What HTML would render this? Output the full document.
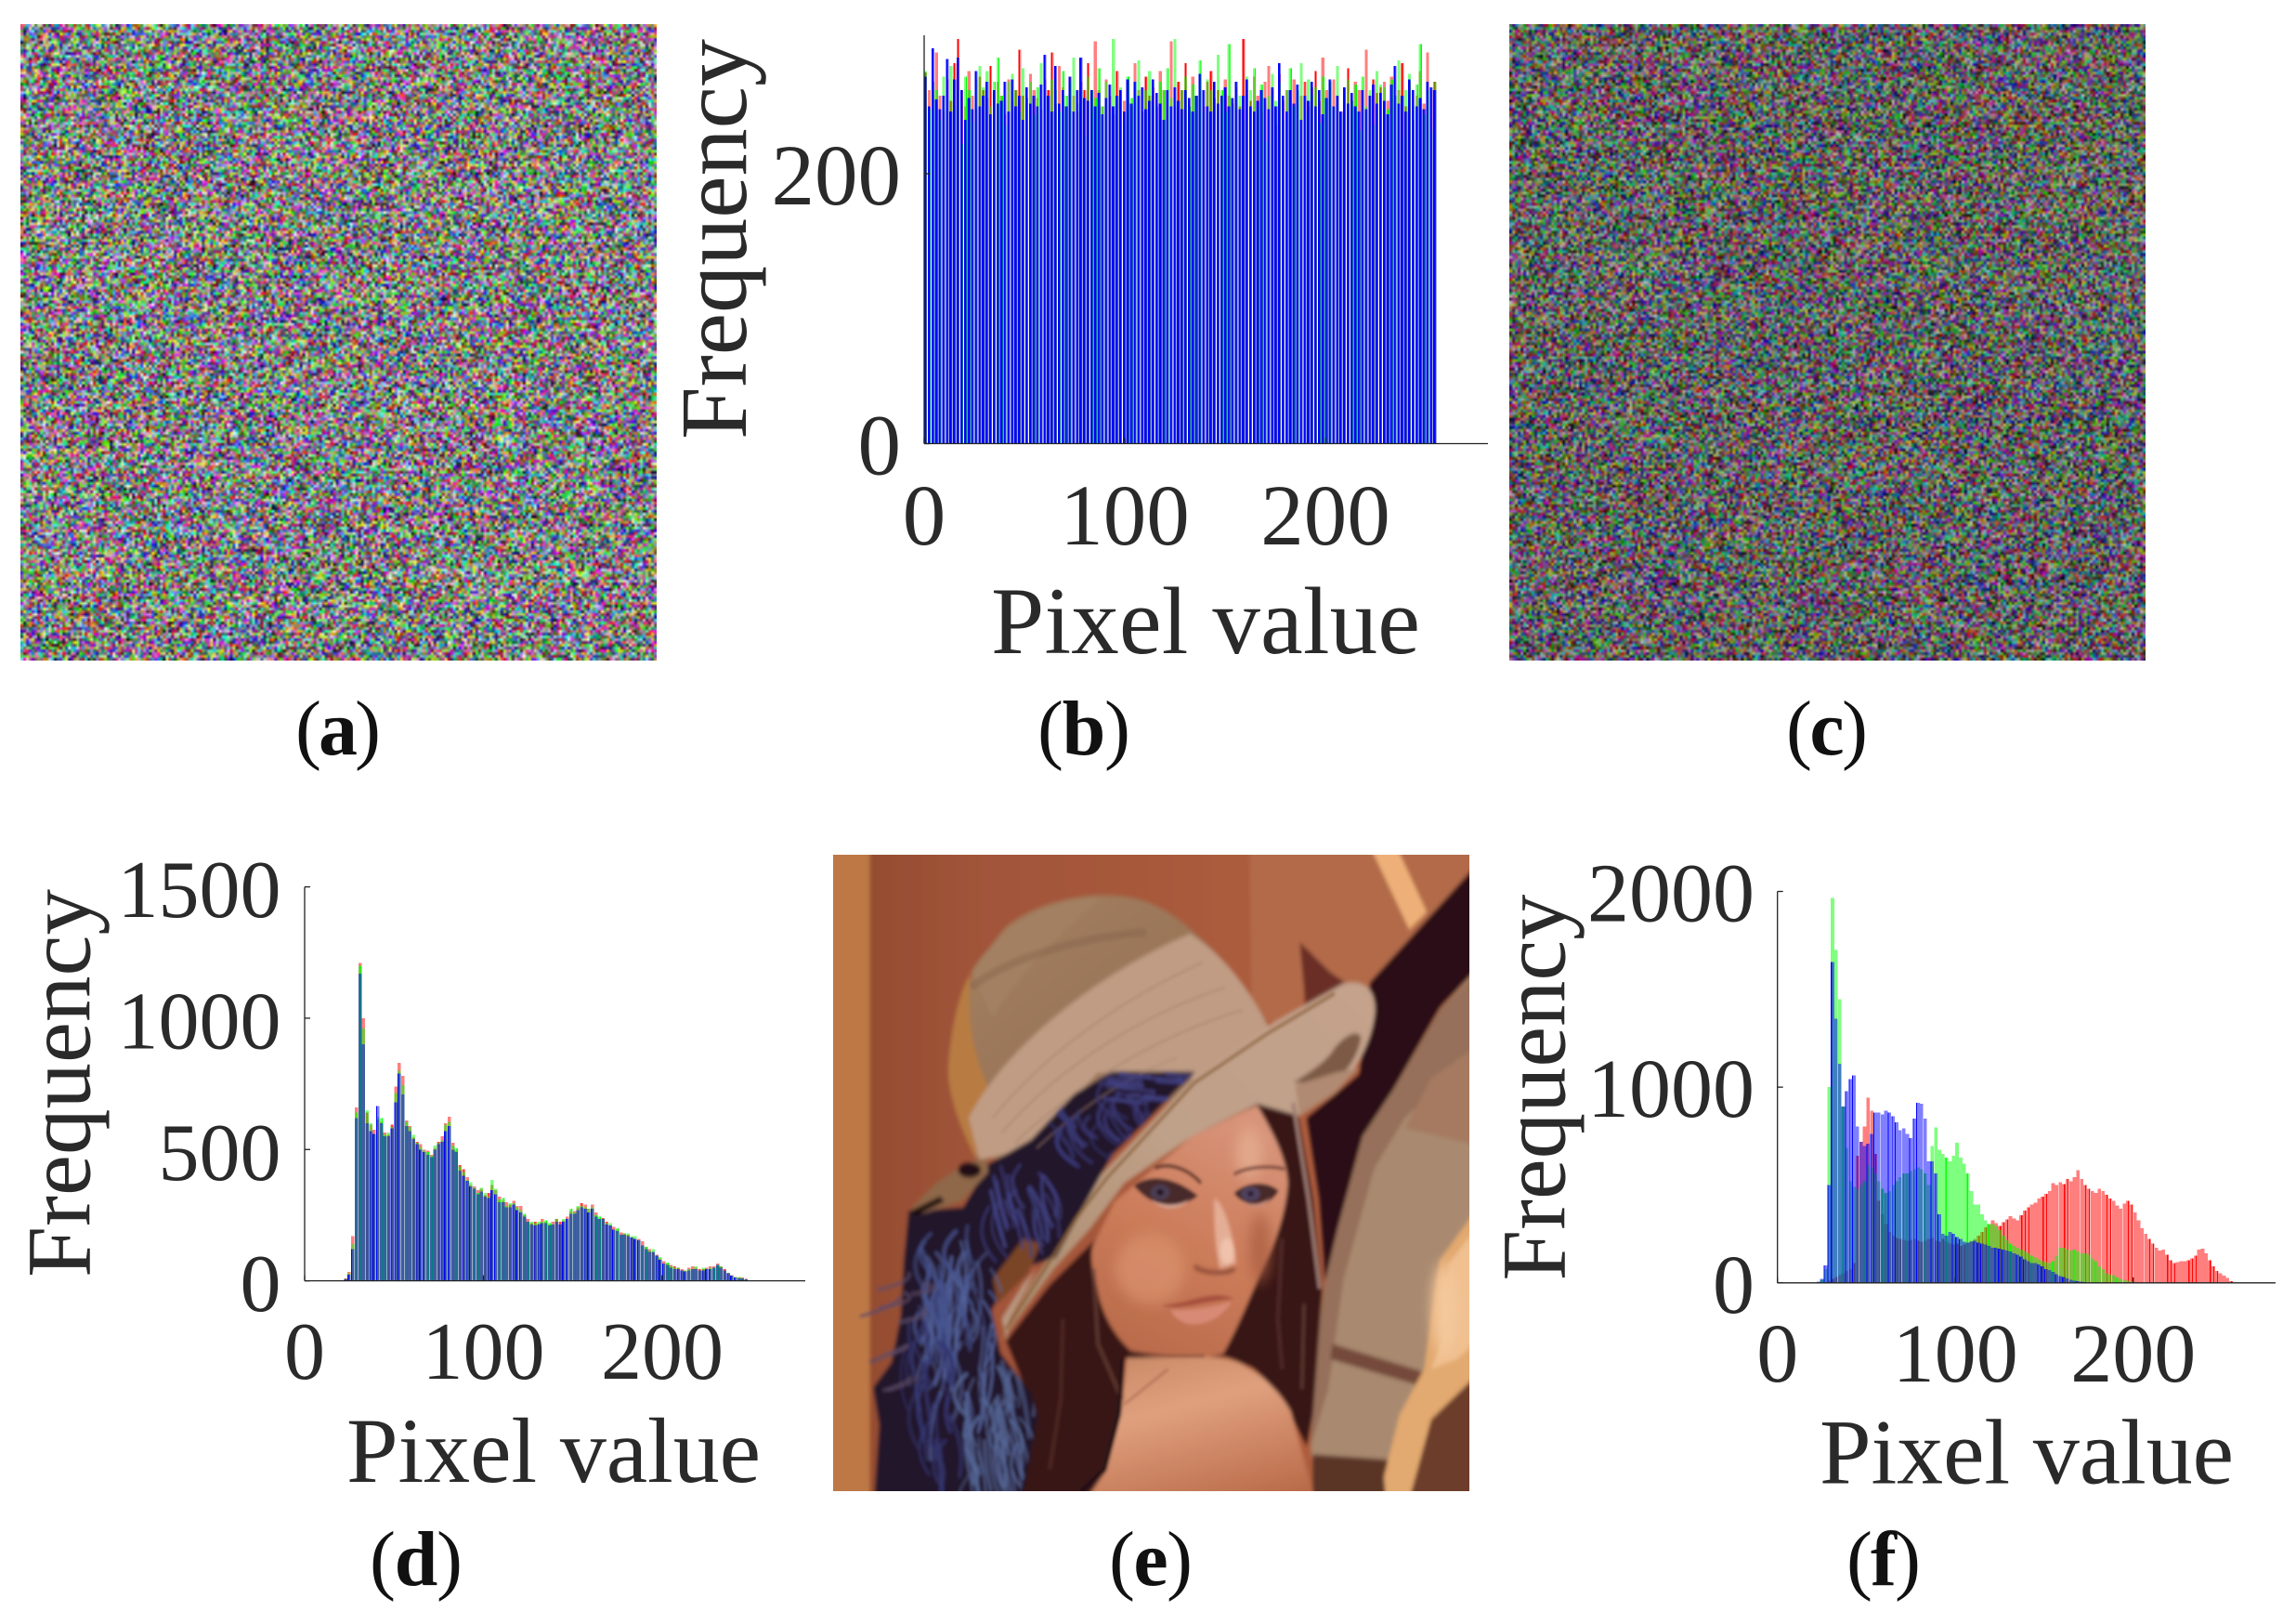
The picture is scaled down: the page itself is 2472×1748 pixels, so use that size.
<!DOCTYPE html>
<html lang="en">
<head>
<meta charset="utf-8">
<title>Encrypted image and histogram panels</title>
<style>
html,body{margin:0;padding:0;background:#fff;}
body{position:relative;width:2472px;height:1748px;overflow:hidden;}
canvas{position:absolute;display:block;}
svg{position:absolute;left:0;top:0;}
text{font-family:"Liberation Serif",serif;fill:#2a2a2a;}
.cap{fill:#111;}
</style>
</head>
<body>
<canvas id="noiseA" width="228" height="228" style="left:22px;top:26px;width:685px;height:685px"></canvas>
<canvas id="noiseC" width="228" height="228" style="left:1625px;top:26px;width:685px;height:685px"></canvas>

<svg id="fig" width="2472" height="1748" viewBox="0 0 2472 1748" xmlns="http://www.w3.org/2000/svg">
  <defs>
    <filter id="soft" x="-5%" y="-5%" width="110%" height="110%"><feGaussianBlur stdDeviation="3"/></filter>
    <filter id="soft2" x="-10%" y="-10%" width="120%" height="120%"><feGaussianBlur stdDeviation="14"/></filter>
    <filter id="soft3" x="-10%" y="-10%" width="120%" height="120%"><feGaussianBlur stdDeviation="1.4"/></filter>
    <filter id="photoBlur" x="0" y="0" width="100%" height="100%"><feGaussianBlur stdDeviation="3.5"/></filter>
    <linearGradient id="crown" x1="0" y1="0" x2="1" y2="1"><stop offset="0" stop-color="#a5805f"/><stop offset="1" stop-color="#8e6a52"/></linearGradient>
    <linearGradient id="bgMid" x1="0" y1="0" x2="1" y2="0"><stop offset="0" stop-color="#8f4a2e"/><stop offset="0.25" stop-color="#a2553a"/><stop offset="1" stop-color="#b4623f"/></linearGradient>
    <linearGradient id="shoulder" x1="0.2" y1="0" x2="0.6" y2="1"><stop offset="0" stop-color="#c98a68"/><stop offset="0.35" stop-color="#e0a07e"/><stop offset="1" stop-color="#b96a48"/></linearGradient>
    <linearGradient id="faceSkin" x1="0.6" y1="0" x2="0.2" y2="1"><stop offset="0" stop-color="#d8947a"/><stop offset="0.5" stop-color="#cc7c5a"/><stop offset="1" stop-color="#b86a4a"/></linearGradient>
    <linearGradient id="brimFill" x1="0" y1="1" x2="1" y2="0"><stop offset="0" stop-color="#a98a6c"/><stop offset="0.5" stop-color="#bfa088"/><stop offset="1" stop-color="#c4a28c"/></linearGradient>
    <clipPath id="lenaClip"><rect x="36" y="36" width="1451" height="1267"/></clipPath>
    <clipPath id="featherClip"><path d="M862 468L671 468L587 511L488 603L389 653L333 739L209 745L198 844L191 955L170 1047L128 1097L142 1171L128 1320H460L502 1158L488 1109L417 1029L396 942L452 862L544 838L671 634Z"/></clipPath>
  </defs>

  <!-- Portrait panel (e): drawn in a 1451x1267 space mapped to the 685x685 panel -->
  <svg x="897" y="920" width="685" height="685" viewBox="36 36 1451 1267" preserveAspectRatio="none">
    <g clip-path="url(#lenaClip)">
    <g filter="url(#photoBlur)">
      <rect x="0" y="0" width="1530" height="1350" fill="url(#bgMid)"/>
      <g filter="url(#soft)">
        <rect x="0" y="0" width="120" height="1350" fill="#bd7845"/>
        <path d="M985 0H1530V300L1260 300L1170 300L1120 220L1100 380L990 360Z" fill="#b26a4a"/>
        <path d="M1100 210L1170 270L1220 300L1120 400Z" fill="#6a2e28"/>
        <path d="M1250 0L1310 0L1390 150L1350 185Z" fill="#eeb078"/>
        <!-- dark arch -->
        <path d="M1530 30L1260 290L1236 473L1116 560L1144 720L1158 886L1186 782L1243 597L1313 504L1420 340L1530 240Z" fill="#2c1016"/>
        <!-- mirror -->
        <path d="M1530 240L1420 345L1313 504L1243 597L1186 782L1158 886L1140 1000L1125 1215L1150 1350H1530Z" fill="#a98a70"/>
        <path d="M1530 250L1420 345L1313 504L1243 597L1186 782L1158 886L1140 1000L1125 1215L1165 1100L1200 880L1270 660L1340 560L1530 400Z" fill="#96705a"/>
        <path d="M1340 580L1530 620V400L1400 480Z" fill="#a57a60"/>
        <path d="M1175 1010L1400 1070L1400 1100L1170 1040Z" fill="#75483a"/>
        <path d="M1130 1230L1300 1240L1300 1350H1130Z" fill="#5a3428"/>
        <!-- peach drape -->
        <path d="M1530 710L1419 843L1398 967L1384 1059L1327 1152L1292 1275L1300 1350H1530Z" fill="#e2a970"/>
        <path d="M1510 770L1440 850L1425 1000L1400 1060L1460 1040L1510 1000Z" fill="#f0c090"/>
        <path d="M1530 1050L1400 1160L1340 1350H1530Z" fill="#6c3c2c"/>
        <!-- hair -->
        <path d="M1003 530L1085 500L1130 720L1151 905L1130 1151L1116 1213L1052 1108L996 1059L932 1035L700 1040L693 1140L657 1263L601 1350L440 1350L502 1158L431 1004L530 893L622 813L800 660Z" fill="#391719"/>
        <!-- hat crown -->
        <path d="M298 470C300 360 350 260 430 180C500 130 620 105 720 122C790 135 840 175 870 200C940 250 1000 330 1040 395L760 550L500 640L360 640C340 600 300 520 298 470Z" fill="url(#crown)"/>
        <path d="M350 270C420 175 520 125 650 118C560 190 470 260 400 360Z" fill="#a38062"/>
        <path d="M298 470C305 360 330 300 350 270C340 350 350 430 400 520L362 640C330 590 300 520 298 470Z" fill="#b87c42"/>
        <path d="M345 560C420 430 620 280 850 193C950 250 1000 330 1035 390L860 480L640 470L480 620L370 645Z" fill="#c09c84"/>
        <!-- brim -->
        <path d="M418 1005L480 900L560 800L640 680L860 478L1031 375L1200 292C1245 285 1272 300 1272 345C1268 400 1235 460 1180 510L1100 556L1003 532L854 597L700 690L622 780L540 860Z" fill="url(#brimFill)"/>
        <path d="M1180 420C1200 400 1230 380 1240 400C1230 450 1190 490 1150 490L1085 490C1120 470 1160 450 1180 420Z" fill="#7c5a44"/>
        <path d="M1100 556L1180 510L1235 460L1180 470L1090 495Z" fill="#b08a72"/>
        <!-- feather mass -->
        <path d="M862 468L671 468L587 511L488 603L389 653L333 739L209 745L198 844L191 955L170 1047L128 1097L142 1171L128 1350H460L502 1158L488 1109L417 1029L396 942L452 862L544 838L671 634Z" fill="#23142a"/>
        <!-- knot -->
        <path d="M212 742L270 690L340 650L385 640L390 668L330 725L240 750Z" fill="#8f6848"/>
        <ellipse cx="347" cy="664" rx="26" ry="15" fill="#241014"/>
        <path d="M212 745L280 716L290 726L222 756Z" fill="#1e0c10"/>
        <path d="M400 880L470 800L510 810L480 870L410 930Z" fill="#7a4428"/>
        <path d="M420 960L470 890L500 860L440 960L432 1000Z" fill="#b89880"/>
        <!-- face -->
        <path d="M1003 535C1040 590 1070 640 1073 690C1068 750 1045 810 1015 860C985 920 955 985 925 1030L883 1038C820 1040 760 1035 714 1023C680 995 650 955 638 900C625 860 622 830 629 813L678 726L854 597Z" fill="url(#faceSkin)"/>
        <!-- shoulder -->
        <path d="M706 1038L869 1035C910 1036 940 1040 960 1047C990 1060 1015 1075 1031 1090C1052 1108 1068 1125 1080 1145L1144 1350H590L657 1263L693 1140Z" fill="url(#shoulder)"/>
      </g>
      <g filter="url(#soft2)">
        <ellipse cx="760" cy="860" rx="80" ry="70" fill="#d88e6c" opacity="0.8"/>
        <ellipse cx="985" cy="630" rx="30" ry="50" fill="#e2a88c"/>
        <ellipse cx="1010" cy="820" rx="25" ry="70" fill="#a85c40" opacity="0.7"/>
        <ellipse cx="1430" cy="940" rx="28" ry="90" fill="#f4c89c"/>
      </g>
      <!-- seam and band detail -->
      <g fill="none">
        <path d="M430 980L520 860L590 760L660 680L860 490L1030 390L1180 312" stroke="#8a6038" stroke-width="7" opacity="0.8"/>
        <path d="M400 560C520 430 700 320 880 250" stroke="#a07c68" stroke-width="4" opacity="0.5"/>
        <path d="M420 590C540 470 720 360 930 300" stroke="#a07c68" stroke-width="4" opacity="0.5"/>
        <path d="M450 610C570 510 760 400 970 345" stroke="#a07c68" stroke-width="4" opacity="0.5"/>
        <path d="M500 620C600 540 700 480 820 440" stroke="#a88672" stroke-width="4" opacity="0.5"/>
        <path d="M350 300C440 240 600 200 750 190" stroke="#7a5c46" stroke-width="16" opacity="0.35"/>
        <!-- hair streaks -->
        <path d="M1085 530L1120 720L1146 900" stroke="#a07e74" stroke-width="10" opacity="0.85"/>
        <path d="M1060 800L1050 960L1060 1060" stroke="#5c3430" stroke-width="10" opacity="0.6"/>
        <path d="M1110 930L1105 1100" stroke="#6a423a" stroke-width="9" opacity="0.6"/>
        <path d="M630 860L640 1010L695 1120" stroke="#6a443c" stroke-width="10" opacity="0.6"/>
        <path d="M560 960L555 1120L530 1260" stroke="#583028" stroke-width="9" opacity="0.6"/>
        <path d="M696 1040L688 1150L655 1260L600 1305" stroke="#241014" stroke-width="9"/>
        <path d="M700 1130L800 1060" stroke="#9a5a44" stroke-width="3"/>
        <path d="M714 1025L800 1034L883 1034" stroke="#7a4434" stroke-width="4"/>
      </g>
      <!-- face details -->
      <g>
        <path d="M722 695C760 668 820 680 868 715C830 742 770 746 722 695Z" fill="#4a2a2a"/>
        <path d="M760 722C790 738 825 735 850 722C825 745 785 745 760 722Z" fill="#d8a898"/>
        <ellipse cx="782" cy="708" rx="22" ry="15" fill="#4c3c54"/>
        <ellipse cx="782" cy="708" rx="8" ry="6" fill="#201018"/>
        <path d="M950 710C980 684 1030 686 1052 705C1030 740 980 744 950 710Z" fill="#4a2a2a"/>
        <path d="M965 722C990 738 1015 732 1035 718C1015 742 985 742 965 722Z" fill="#c89080"/>
        <ellipse cx="988" cy="711" rx="22" ry="14" fill="#504260"/>
        <ellipse cx="988" cy="711" rx="7" ry="5" fill="#201018"/>
        <path d="M770 660C800 648 845 660 875 690" fill="none" stroke="#5a3028" stroke-width="7"/>
        <path d="M950 672C985 655 1040 655 1065 662" fill="none" stroke="#6a3a30" stroke-width="6"/>
        <path d="M784 933C820 945 880 925 950 920C915 905 870 918 840 925C815 930 795 932 784 933Z" fill="#a6503c"/>
        <path d="M805 942C845 944 900 938 945 925C925 958 880 975 845 970C825 965 812 955 805 942Z" fill="#d88a76"/>
      </g>
      <g filter="url(#soft)">
        <path d="M905 720C930 730 950 800 955 850L918 860C905 810 905 760 905 720Z" fill="#e4ae96"/>
        <ellipse cx="935" cy="825" rx="16" ry="26" fill="#f0c2ac"/>
        <path d="M860 855C880 870 930 872 952 860" fill="none" stroke="#8a4a38" stroke-width="8"/>
      </g>
      <g clip-path="url(#featherClip)">
        <g id="featherStrands" fill="none" stroke-linecap="round"></g>
      </g>
      <g id="featherStrandsOuter" fill="none" stroke-linecap="round"></g>
    </g>
    </g>
  </svg>

  <g id="chartB"></g>
  <g id="chartD"></g>
  <g id="chartF"></g>

  <text class="cap" x="364" y="812" font-size="84" text-anchor="middle" textLength="92">(<tspan font-weight="bold">a</tspan>)</text>
  <text class="cap" x="1167" y="812" font-size="84" text-anchor="middle" textLength="100">(<tspan font-weight="bold">b</tspan>)</text>
  <text class="cap" x="1967" y="812" font-size="84" text-anchor="middle" textLength="88">(<tspan font-weight="bold">c</tspan>)</text>
  <text class="cap" x="448" y="1706" font-size="84" text-anchor="middle" textLength="100">(<tspan font-weight="bold">d</tspan>)</text>
  <text class="cap" x="1239" y="1706" font-size="84" text-anchor="middle" textLength="90">(<tspan font-weight="bold">e</tspan>)</text>
  <text class="cap" x="2028" y="1706" font-size="84" text-anchor="middle" textLength="80">(<tspan font-weight="bold">f</tspan>)</text>
</svg>

<script>
// Each array holds one count per bin.
const bBinWidth = 1.8;
const dBinWidth = 2;
const fBinWidth = 2;

const bRed = [
275,262,268,290,258,246,270,254,282,300,262,250,276,258,248,272,
262,256,280,250,268,258,244,270,254,262,292,258,250,274,262,256,
248,270,262,290,252,280,264,250,272,258,246,268,262,282,254,298,
262,250,270,258,244,276,262,254,268,250,282,262,246,272,258,264,
250,276,262,256,298,250,268,262,282,246,272,258,264,250,268,276,
256,262,244,270,258,252,264,250,300,262,254,272,258,246,268,280,
262,236,274,254,262,248,270,240,258,268,250,264,276,254,286,262,
250,270,258,246,264,278,252,268,262,244,292,258,270,260,264,268,
254,272,246,262,282,250,268,240,258,276,252,290,262,268];

const bGreen = [
276,248,266,262,240,272,256,280,250,262,222,272,262,238,270,280,
264,276,250,268,286,258,236,268,274,262,246,278,256,268,244,264,
282,258,250,270,262,246,276,258,268,286,252,262,228,272,262,256,
278,250,268,244,300,258,264,238,272,256,268,284,246,262,276,252,
240,268,262,278,256,300,244,262,272,250,266,258,284,246,270,262,
254,288,262,246,296,250,268,258,240,272,262,278,250,266,224,258,
274,254,268,240,262,278,250,262,282,246,270,258,264,238,272,256,
268,250,280,244,262,270,254,266,232,272,250,262,236,276,266,264,
248,270,258,284,226,262,274,250,266,296,244,262,232,268];

const bBlue = [
272,250,293,255,248,258,285,246,270,286,262,240,256,248,276,250,
258,268,244,262,252,254,268,246,270,250,258,240,264,252,258,250,
266,288,258,246,280,252,262,250,272,246,262,286,256,254,262,250,
260,244,256,266,250,258,262,246,270,252,268,258,264,248,254,270,
260,252,240,262,250,264,254,248,262,256,246,258,274,262,250,246,
268,252,258,264,250,256,268,248,258,270,250,246,254,262,256,248,
264,250,282,258,246,262,252,266,240,258,254,268,250,262,244,256,
270,250,258,246,264,252,260,250,246,262,248,258,266,252,260,254,
244,266,280,252,258,246,270,262,250,256,248,268,264,262];

const dRed = [
0,0,0,0,0,0,0,0,0,0,0,10,34,170,660,1210,
1000,640,595,575,615,605,565,555,595,740,830,780,610,590,545,530,
520,500,495,480,505,530,550,600,625,525,495,440,425,395,365,360,
345,350,325,335,365,345,320,305,300,290,305,285,285,250,235,220,
225,220,235,225,215,225,235,225,230,245,265,265,280,295,290,275,
290,260,235,240,225,210,205,195,185,180,175,165,160,160,150,130,
120,110,100,85,75,65,60,55,50,45,40,50,55,50,45,45,
50,55,55,65,55,45,30,22,15,12,12,8,3,2,0,0];

const dGreen = [
0,0,0,0,0,0,0,0,0,0,0,8,28,140,640,1200,
960,650,600,560,625,620,555,565,585,715,800,745,605,585,555,525,
510,495,490,475,515,525,535,595,605,515,505,435,415,385,375,355,
335,355,335,320,385,350,310,315,285,295,295,280,270,255,225,225,
220,225,225,230,220,215,235,215,235,235,275,260,285,285,280,275,
280,250,245,235,220,220,195,200,175,180,180,170,170,155,135,130,
115,120,95,90,65,70,55,50,50,40,40,45,45,55,40,50,
45,50,50,60,55,40,30,20,15,14,10,6,3,2,0,0];

const dBlue = [
0,0,0,0,0,0,0,0,0,0,0,6,24,120,620,1170,
900,600,570,560,665,600,550,550,580,680,790,710,590,570,540,520,
500,490,480,470,500,520,530,570,590,500,490,420,400,380,360,350,
330,340,320,315,345,330,300,300,280,280,290,270,260,245,225,215,
210,215,220,220,210,215,225,215,225,235,255,255,270,280,275,260,
275,245,235,235,215,210,195,190,175,175,170,165,160,155,135,120,
110,110,95,80,65,60,50,45,45,40,35,40,45,45,40,40,
45,45,50,60,50,40,28,20,13,10,10,6,2,1,0,0];

const fRed = [
0,0,0,0,0,0,0,0,0,0,0,0,2,4,10,20,
30,40,50,60,70,100,650,720,800,945,880,660,420,350,300,260,
240,230,225,220,215,220,225,215,210,215,225,230,215,210,225,210,
200,195,200,190,195,205,215,225,240,260,285,300,320,305,290,310,
325,340,330,320,345,370,385,400,410,430,440,455,470,510,500,515,
505,530,520,540,575,530,500,480,470,460,480,470,450,430,420,395,
380,405,420,400,360,320,280,250,225,200,180,165,170,145,115,100,
105,110,110,115,125,140,170,175,150,115,85,60,48,36,24,8];

const fGreen = [
0,0,0,0,0,0,0,0,0,0,0,4,16,70,1000,1966,
1700,1450,900,690,520,490,480,500,520,600,590,560,520,480,460,470,
500,520,540,560,560,570,580,590,580,560,500,700,795,680,660,640,
620,650,715,640,610,560,470,400,400,350,320,300,300,290,270,240,
220,200,190,180,170,160,150,140,130,120,110,105,100,110,140,180,
180,170,165,170,160,150,150,145,125,110,85,70,50,42,40,28,
20,14,10,6,3,2,0,0,0,0,0,0,0,0,0,0,
0,0,0,0,0,0,0,0,0,0,0,0,0,0,0,0];

const fBlue = [
0,0,0,0,0,0,0,0,0,0,0,5,20,90,500,1640,
1350,1120,900,980,1040,1060,800,720,700,710,760,870,870,860,880,870,
850,820,780,790,760,740,840,920,915,840,620,620,560,350,250,240,
260,250,235,225,210,205,210,215,205,200,195,190,180,180,175,170,
165,160,150,145,135,120,110,100,100,95,85,70,65,55,45,35,
30,22,15,10,8,6,4,2,1,0,0,0,0,0,0,0,
0,0,0,0,0,0,0,0,0,0,0,0,0,0,0,0,
0,0,0,0,0,0,0,0,0,0,0,0,0,0,0,0];

const xTickValues = [0, 100, 200];
const bYTicks = [0, 200];
const dYTicks = [0, 500, 1000, 1500];
const fYTicks = [0, 1000, 2000];

const NS = 'http://www.w3.org/2000/svg';
function mk(parent, tag, attrs, txt) {
  const el = document.createElementNS(NS, tag);
  for (const k in attrs) el.setAttribute(k, attrs[k]);
  if (txt !== undefined) el.textContent = txt;
  parent.appendChild(el);
  return el;
}

function drawChart(c) {
  const g = document.getElementById(c.id);
  const sx = v => c.x0 + (v / c.xMax) * (c.x1 - c.x0);
  const sy = v => c.yBase - (v / c.yRef) * (c.yBase - c.yRefPx);
  const step = sx(c.binWidth) - sx(0);
  const seriesNames = ['red', 'green', 'blue'];
  c.series.forEach(function (values, s) {
    const layer = mk(g, 'g', {fill: c.colors[s], 'fill-opacity': c.alpha[s], 'shape-rendering': 'crispEdges'});
    
    
    values.forEach(function (v, i) {
      if (v <= 0) return;
      const x = sx(i * c.binWidth);
      const bar = mk(layer, 'rect', {x: x, y: sy(v), width: step * c.barFrac, height: c.yBase - sy(v)});
      
      
      const p = x + c.phase[s];
      if (p - Math.floor(p) < c.stripeWindow[s]) {
        const stripe = mk(layer, 'rect', {x: x + c.stripeOffset[s], y: sy(v), width: c.stripeW[s], height: c.yBase - sy(v), 'fill-opacity': c.stripeAlpha});
        
        
      }
    });
  });
  const yAxis = mk(g, 'line', {x1: c.x0, x2: c.x0, y1: c.yBase, y2: c.yTop, stroke: '#222', 'stroke-width': 1.3});
  
  
  const xAxis = mk(g, 'line', {x1: c.x0, x2: c.x1, y1: c.yBase, y2: c.yBase, stroke: '#222', 'stroke-width': 1.3});
  
  
  c.yTicks.forEach(function (t) {
    const tick = mk(g, 'line', {x1: c.x0, x2: c.x0 + 6, y1: sy(t), y2: sy(t), stroke: '#222', 'stroke-width': 1.3});
    
    
    const label = mk(g, 'text', {x: c.yLabelX, y: sy(t) + c.yLabelDy, 'font-size': c.tickSize, 'text-anchor': 'end'}, String(t));
    
    
  });
  xTickValues.forEach(function (t) {
    const tick = mk(g, 'line', {x1: sx(t), x2: sx(t), y1: c.yBase, y2: c.yBase - 6, stroke: '#222', 'stroke-width': 1.3});
    
    
    const label = mk(g, 'text', {x: sx(t), y: c.xLabelY, 'font-size': c.tickSize, 'text-anchor': 'middle'}, String(t));
    
    
  });
  const xt = mk(g, 'text', {x: c.xTitle[0], y: c.xTitle[1], 'font-size': c.xTitle[3], textLength: c.xTitle[2]}, 'Pixel value');
  
  
  const yt = mk(g, 'text', {transform: 'translate(' + c.yTitle[0] + ' ' + c.yTitle[1] + ') rotate(-90)', 'font-size': c.yTitle[3], textLength: c.yTitle[2]}, 'Frequency');
  
  
}

drawChart({id:'chartB', binWidth:bBinWidth, series:[bRed,bGreen,bBlue], colors:['#ff0000','#00ff00','#0000ff'], alpha:[0.5,0.5,0.55],
  barFrac:0.82, phase:[0.1,0.55,0], stripeWindow:[0.45,0.45,1], stripeOffset:[1,2,0], stripeW:[1.1,1.1,2.1], stripeAlpha:1,
  x0:995, x1:1602, xMax:281, yBase:477.5, yTop:38, yRef:200, yRefPx:187, yTicks:bYTicks,
  yLabelX:970, yLabelDy:33, tickSize:93, xLabelY:586,
  xTitle:[1067,703,462,103], yTitle:[803,473,431,102]});

drawChart({id:'chartD', binWidth:dBinWidth, series:[dRed,dGreen,dBlue], colors:['#ff0000','#00ff00','#0000ff'], alpha:[0.5,0.5,0.5],
  barFrac:0.92, phase:[0.66,0.33,0], stripeWindow:[0.22,0.32,0.42], stripeOffset:[1,2,0], stripeW:[1.1,1.1,1.1], stripeAlpha:0.95,
  x0:328, x1:867, xMax:280, yBase:1378.6, yTop:954.6, yRef:1500, yRefPx:954.6, yTicks:dYTicks,
  yLabelX:302.5, yLabelDy:32.5, tickSize:88, xLabelY:1484,
  xTitle:[373,1595,446,100], yTitle:[96.4,1375,418,99]});

drawChart({id:'chartF', binWidth:fBinWidth, series:[fRed,fGreen,fBlue], colors:['#ff0000','#00ff00','#0000ff'], alpha:[0.5,0.5,0.5],
  barFrac:0.98, phase:[0.15,0.4,0], stripeWindow:[0.4,0.2,0.5], stripeOffset:[2,1,0], stripeW:[1.1,1.1,1.1], stripeAlpha:0.95,
  x0:1913.7, x1:2450, xMax:280, yBase:1380.8, yTop:959.5, yRef:2000, yRefPx:959.5, yTicks:fYTicks,
  yLabelX:1889, yLabelDy:32, tickSize:90, xLabelY:1487,
  xTitle:[1959,1596.6,446,100], yTitle:[1684.5,1378.6,416,98.5]});

// Seeded generator for decorative texture only (cipher speckle, feather fibres); never used for chart values.
function makeRng(seed) {
  let a = seed >>> 0;
  return function () {
    a = (a + 0x6D2B79F5) >>> 0;
    let t = a;
    t = Math.imul(t ^ (t >>> 15), t | 1);
    t ^= t + Math.imul(t ^ (t >>> 7), t | 61);
    return ((t ^ (t >>> 14)) >>> 0) / 4294967296;
  };
}

function speckle(id, seed, lo, hi) {
  const cv = document.getElementById(id);
  const ctx = cv.getContext('2d');
  const img = ctx.createImageData(cv.width, cv.height);
  const next = makeRng(seed);
  for (let i = 0; i < img.data.length; i += 4) {
    img.data[i] = lo + next() * (hi - lo);
    img.data[i + 1] = lo + next() * (hi - lo);
    img.data[i + 2] = lo + next() * (hi - lo);
    img.data[i + 3] = 255;
  }
  ctx.putImageData(img, 0, 0);
}
speckle('noiseA', 12345, 0, 255);
speckle('noiseC', 67890, 0, 195);

// Feather fibres: [cx, cy, spreadX, spreadY, dirX, dirY, length, count, colour, hostId]
const fibreGroups = [
  [320, 950, 85, 160, -0.1, 1, 100, 50, '#54649e', 'featherStrands'],
  [300, 860, 70, 90, 0.2, 1, 90, 24, '#465490', 'featherStrands'],
  [400, 1160, 65, 120, 0.15, 1, 100, 50, '#566898', 'featherStrands'],
  [250, 1080, 55, 130, 0.1, 1, 90, 26, '#343670', 'featherStrands'],
  [640, 560, 130, 70, 0.5, 0.8, 70, 36, '#3a3a78', 'featherStrands'],
  [740, 500, 100, 30, 0.9, 0.1, 70, 20, '#424284', 'featherStrands'],
  [470, 700, 80, 50, 0.25, 1, 80, 24, '#424488', 'featherStrands'],
  [215, 960, 30, 130, -0.9, 0.4, 70, 9, '#5c4c68', 'featherStrandsOuter']
];
(function () {
  const r = makeRng(4242);
  fibreGroups.forEach(function (f) {
    const host = document.getElementById(f[9]);
    for (let i = 0; i < f[7]; i++) {
      const x = f[0] + (r() - 0.5) * 2 * f[2];
      const y = f[1] + (r() - 0.5) * 2 * f[3];
      const len = f[6] * (0.6 + r() * 0.8);
      const bend = (r() - 0.5) * 110;
      const ex = x + f[4] * len + bend * 0.3;
      const ey = y + f[5] * len;
      const d = 'M' + x.toFixed(1) + ' ' + y.toFixed(1) + 'Q' + (x + bend).toFixed(1) + ' ' + ((y + ey) / 2).toFixed(1) + ' ' + ex.toFixed(1) + ' ' + ey.toFixed(1);
      mk(host, 'path', {d: d, stroke: f[8], 'stroke-width': 5 + r() * 5, opacity: 0.45 + r() * 0.4});
    }
  });
})();
</script>
</body>
</html>
